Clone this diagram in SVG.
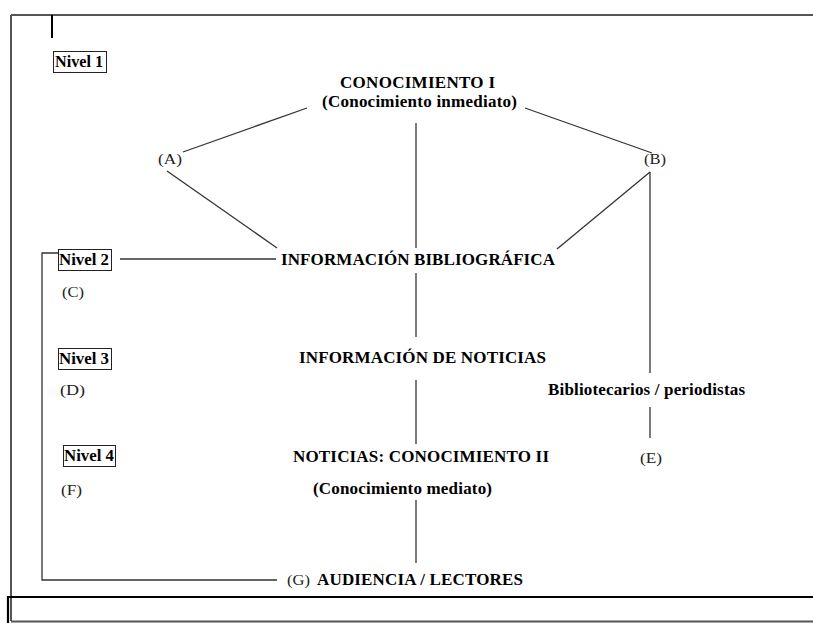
<svg xmlns="http://www.w3.org/2000/svg" width="813" height="623" viewBox="0 0 813 623">
<style>
.b{font-family:"Liberation Serif","Times New Roman","DejaVu Serif",serif;font-weight:bold;font-size:17px;fill:#000}
.n{font-family:"Liberation Serif","Times New Roman","DejaVu Serif",serif;font-weight:bold;font-size:16px;fill:#000}
.r{font-family:"Liberation Serif","Times New Roman","DejaVu Serif",serif;font-size:15px;fill:#222}
.box{fill:none;stroke:#222;stroke-width:1}
.c{stroke:#333;stroke-width:1.3;fill:none}
</style>
<rect width="813" height="623" fill="#fff"/>
<g id="frame">
<path d="M11,15 H813 M11,15 V621 M11,621.5 H813" stroke="#555" stroke-width="2" fill="none"/>
<path d="M8,623 V597 H813" stroke="#000" stroke-width="2.2" fill="none"/>
<line x1="52" y1="15" x2="52" y2="38" stroke="#000" stroke-width="2"/>
</g>
<g id="connectors">
<line class="c" x1="183" y1="152" x2="307" y2="108"/>
<line class="c" x1="167" y1="171" x2="277" y2="248"/>
<line class="c" x1="525" y1="108" x2="652" y2="153"/>
<line class="c" x1="650" y1="172" x2="557" y2="249"/>
<line class="c" x1="416" y1="123" x2="416" y2="248"/>
<line class="c" x1="416" y1="273" x2="416" y2="337"/>
<line class="c" x1="416" y1="380" x2="416" y2="444"/>
<line class="c" x1="416" y1="500" x2="416" y2="563"/>
<line class="c" x1="650" y1="172" x2="650" y2="373"/>
<line class="c" x1="650" y1="407" x2="650" y2="438"/>
<line class="c" x1="120" y1="259" x2="276" y2="259"/>
<path class="c" d="M58,253 H42 V580 H277"/>
</g>
<g id="nivel1"><rect class="box" x="53.5" y="51.5" width="53" height="21"/><text class="n" x="55" y="67" textLength="48" lengthAdjust="spacingAndGlyphs">Nivel 1</text></g>
<g id="conocimiento1">
<text class="b" x="340" y="88" textLength="155" lengthAdjust="spacing">CONOCIMIENTO I</text>
<text class="b" x="322" y="107" textLength="195" lengthAdjust="spacing">(Conocimiento inmediato)</text>
</g>
<g id="nodeA"><text class="r" x="158" y="164" textLength="24" lengthAdjust="spacingAndGlyphs">(A)</text></g>
<g id="nodeB"><text class="r" x="644" y="164" textLength="22" lengthAdjust="spacingAndGlyphs">(B)</text></g>
<g id="infobib"><text class="b" x="281" y="265" textLength="274" lengthAdjust="spacing">INFORMACIÓN BIBLIOGRÁFICA</text></g>
<g id="nivel2"><rect class="box" x="58.5" y="249.5" width="53" height="21"/><text class="n" x="59" y="265" textLength="50" lengthAdjust="spacingAndGlyphs">Nivel 2</text></g>
<g id="nodeC"><text class="r" x="62" y="297" textLength="22" lengthAdjust="spacingAndGlyphs">(C)</text></g>
<g id="nivel3"><rect class="box" x="58.5" y="348.5" width="53" height="21"/><text class="n" x="59" y="364" textLength="50" lengthAdjust="spacingAndGlyphs">Nivel 3</text></g>
<g id="nodeD"><text class="r" x="60" y="395" textLength="25" lengthAdjust="spacingAndGlyphs">(D)</text></g>
<g id="infonot"><text class="b" x="299" y="363" textLength="247" lengthAdjust="spacing">INFORMACIÓN DE NOTICIAS</text></g>
<g id="biblio"><text class="b" x="548" y="395" textLength="197" lengthAdjust="spacing">Bibliotecarios / periodistas</text></g>
<g id="nivel4"><rect class="box" x="63.5" y="445.5" width="52" height="21"/><text class="n" x="64" y="461" textLength="50" lengthAdjust="spacingAndGlyphs">Nivel 4</text></g>
<g id="noticias"><text class="b" x="293" y="462" textLength="256" lengthAdjust="spacing">NOTICIAS: CONOCIMIENTO II</text></g>
<g id="nodeE"><text class="r" x="640" y="463" textLength="22" lengthAdjust="spacingAndGlyphs">(E)</text></g>
<g id="nodeF"><text class="r" x="61" y="495" textLength="21" lengthAdjust="spacingAndGlyphs">(F)</text></g>
<g id="mediato"><text class="b" x="313" y="494" textLength="179" lengthAdjust="spacing">(Conocimiento mediato)</text></g>
<g id="audiencia"><text class="r" x="287" y="585" textLength="23" lengthAdjust="spacingAndGlyphs">(G)</text><text class="b" x="317" y="585" textLength="206" lengthAdjust="spacing">AUDIENCIA / LECTORES</text></g>
</svg>
